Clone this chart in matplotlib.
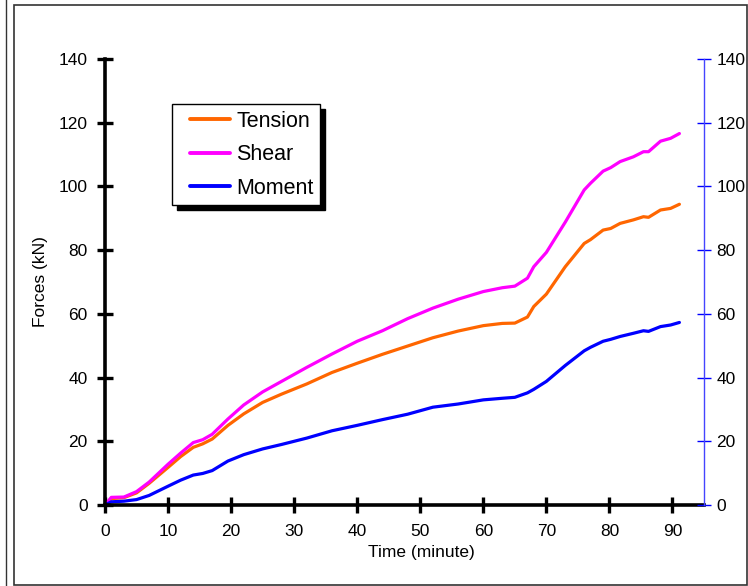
import matplotlib
matplotlib.use("Agg")
import matplotlib.pyplot as plt
from matplotlib.lines import Line2D
from matplotlib.patches import Rectangle
import numpy as np

FONT = ['Liberation Sans', 'DejaVu Sans']
plt.rcParams['font.family'] = FONT

# ---- data ----
time_min = [0, 1, 3, 5, 7, 10, 12, 14, 15.5, 17, 19.5, 22, 25, 28, 32, 36, 40, 44, 48,
            52, 56, 60, 63, 65, 67, 68, 70, 73, 76, 77, 79, 80.2, 81.7, 83.8, 85.4,
            86.2, 88.1, 89.7, 91.1]
tension = [0, 2.0, 2.3, 3.8, 6.8, 11.8, 15.2, 18.1, 19.2, 20.7, 25.0, 28.6, 32.2, 34.8,
           38.0, 41.6, 44.5, 47.3, 49.9, 52.5, 54.6, 56.3, 57.0, 57.1, 59.0, 62.3, 66.2,
           74.8, 82.1, 83.3, 86.3, 86.8, 88.4, 89.5, 90.5, 90.3, 92.6, 93.1, 94.4]
shear = [0, 2.4, 2.5, 4.2, 7.2, 12.8, 16.3, 19.6, 20.5, 22.2, 27.0, 31.4, 35.5, 38.8,
         43.2, 47.4, 51.4, 54.7, 58.5, 61.8, 64.6, 67.0, 68.2, 68.7, 71.2, 74.8, 79.3,
         88.8, 98.9, 101.0, 104.8, 105.9, 107.8, 109.3, 110.9, 110.9, 114.2, 115.1, 116.6]
moment = [0, 1.0, 1.2, 1.7, 3.0, 5.9, 7.8, 9.4, 9.9, 10.8, 13.8, 15.8, 17.6, 19.0,
          21.0, 23.3, 25.0, 26.8, 28.5, 30.7, 31.7, 33.0, 33.5, 33.8, 35.2, 36.3, 38.8,
          43.8, 48.4, 49.5, 51.4, 52.0, 52.9, 53.9, 54.7, 54.5, 56.0, 56.5, 57.3]
series_names = ['Tension', 'Shear', 'Moment']
series_colors = ['#FF6600', '#FF00FF', '#0000FF']
x_ticks = [0, 10, 20, 30, 40, 50, 60, 70, 80, 90]
y_ticks = [0, 20, 40, 60, 80, 100, 120, 140]

W, H = 748, 586
fig = plt.figure(figsize=(W / 100, H / 100), dpi=100)

def fx(px):
    return px / W

def fy(py):
    return 1 - py / H

ax = fig.add_axes([fx(105), fy(505), fx(704) - fx(105), fy(59) - fy(505)])
ax.set_xlim(0, 95)
ax.set_ylim(0, 140)

for vals, name, col in zip([tension, shear, moment], series_names, series_colors):
    ax.plot(time_min, vals, color=col, lw=2.3, label=name, solid_capstyle='round')

ax.spines['top'].set_visible(False)
ax.spines['right'].set_visible(False)
ax.spines['left'].set_linewidth(2.6)
ax.spines['bottom'].set_linewidth(2.6)
ax.set_xticks(x_ticks)
ax.set_yticks(y_ticks)
ax.tick_params(axis='both', direction='inout', length=11, width=2.4, labelsize=12.5)
ax.tick_params(axis='y', pad=7)
ax.tick_params(axis='x', pad=8)

ax2 = ax.twinx()
ax2.set_ylim(0, 140)
ax2.set_yticks(y_ticks)
for s in ['top', 'left', 'bottom']:
    ax2.spines[s].set_visible(False)
ax2.spines['right'].set_color('#4444FF')
ax2.spines['right'].set_linewidth(1.0)
ax2.tick_params(axis='y', direction='inout', length=10, width=1.0, color='#0000FF',
                labelsize=12.5, pad=4)

fig.text(fx(421), fy(553), 'Time (minute)', ha='center', va='center', fontsize=12.5)
fig.text(fx(40), fy(282), 'Forces (kN)', ha='center', va='center', fontsize=12.5,
         rotation=90)

LFS = 15.5
leg = ax.legend(loc='upper left', bbox_to_anchor=(fx(172), fy(104)),
                bbox_transform=fig.transFigure, borderaxespad=0, fontsize=LFS,
                frameon=True, fancybox=False, handlelength=2.39, handletextpad=0.28,
                labelspacing=0.58, borderpad=0.31,
                shadow={'color': 'black', 'alpha': 1, 'ox': 3.5, 'oy': -3.5})
leg.get_frame().set_edgecolor('black')
leg.get_frame().set_linewidth(1.0)
for lh in leg.get_lines():
    lh.set_linewidth(2.8)
    xd = np.asarray(lh.get_xdata(), dtype=float)
    lh.set_xdata([xd[0] + 8.1, xd[-1]])
    lh.set_ydata([np.asarray(lh.get_ydata())[0]] * 2)

# outer frames
fig.add_artist(Rectangle((fx(14), fy(585)), fx(747) - fx(14), fy(5) - fy(585),
                         transform=fig.transFigure, fill=False, edgecolor='#333333',
                         lw=1.2))
fig.add_artist(Line2D([fx(6), fx(6)], [fy(0), fy(585)], transform=fig.transFigure,
                      color='#333333', lw=1.0))

fig.savefig('out.png', dpi=100)
